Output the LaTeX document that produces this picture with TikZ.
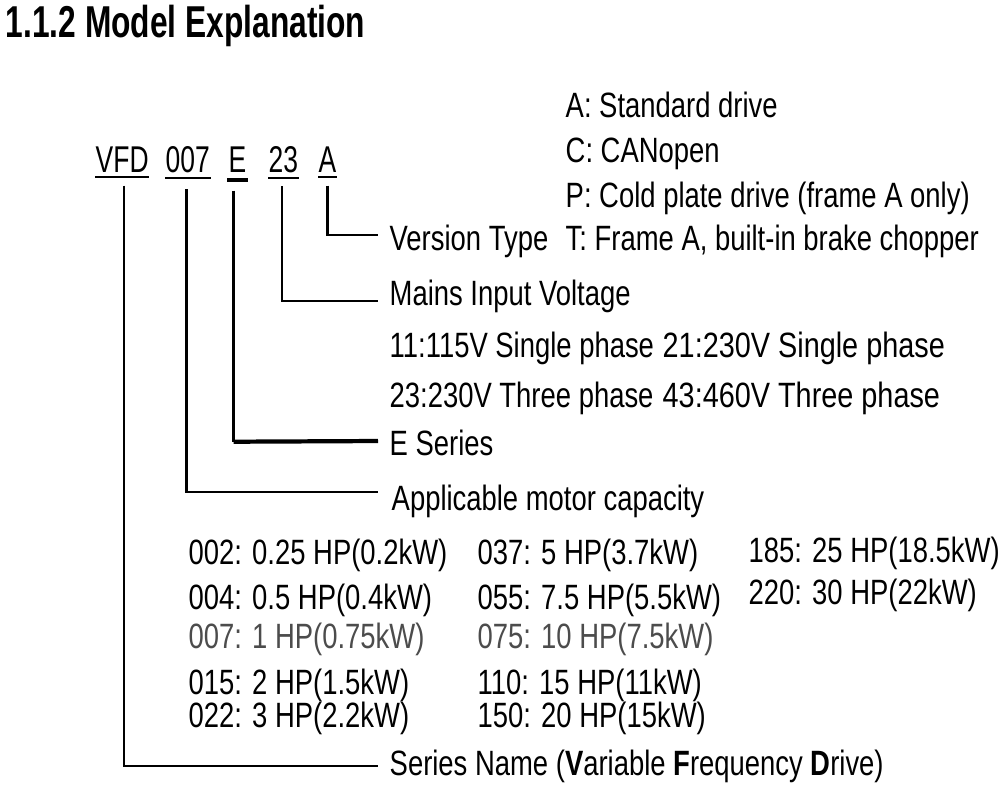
\documentclass[tikz,border=0pt]{standalone}
\usepackage{fontspec}
\setmainfont{Liberation Sans}[FakeStretch=0.78]
\newfontfamily\titlefont{Liberation Sans}[FakeStretch=0.71]
\newfontfamily\codefont{Liberation Sans}[FakeStretch=0.71]
\newfontfamily\widefont{Liberation Sans}[FakeStretch=0.82]
\usetikzlibrary{calc}
\definecolor{lightink}{rgb}{0.3,0.3,0.3}
\tikzset{
  txt/.style={anchor=base west, inner sep=0pt, font=\fontsize{10}{12}\selectfont},
  widetxt/.style={anchor=base west, inner sep=0pt, font=\widefont\fontsize{10}{12}\selectfont},
  dim/.style={txt, text=lightink},
  code/.style={anchor=base west, inner sep=0pt, font=\codefont\fontsize{10.6}{12}\selectfont},
  conn/.style={draw=black, line width=0.6pt},
  uline/.style={draw=black, line width=0.6pt},
}
\begin{document}
\begin{tikzpicture}[x=0.01cm,y=-0.01cm]
\useasboundingbox (0,0) rectangle (1000,793);
\fill[white] (0,0) rectangle (1000,793);
% title
\node[anchor=base west, inner sep=0pt, font=\titlefont\bfseries\fontsize{12.7}{14}\selectfont] (title) at (5,37) {1.1.2 Model Explanation};
% code parts
\node[code] (vfd) at (95,172) {VFD};
\node[code] (cap) at (165,172) {007};
\node[code] (ser) at (228,172) {E};
\node[code] (volt) at (268,172) {23};
\node[code] (ver) at (318,172) {A};
\draw[uline] ($(vfd.south west)+(0,4.5)$) -- ($(vfd.south east)+(0,4.5)$);
\draw[uline] ($(cap.south west)+(0,4.5)$) -- ($(cap.south east)+(0,4.5)$);
\draw[black, line width=1.2pt] ($(ser.south west)+(-1,7.5)$) -- ($(ser.south east)+(1,7.5)$);
\draw[uline] ($(volt.south west)+(0,4.5)$) -- ($(volt.south east)+(0,4.5)$);
\draw[uline] ($(ver.south west)+(0,4.5)$) -- ($(ver.south east)+(0,4.5)$);
% version type
\node[txt] (lver) at (389,250) {Version Type};
\node[txt] (va) at (565,117) {A: Standard drive};
\node[txt] (vc) at (565,162) {C: CANopen};
\node[txt] (vp) at (565,207) {P: Cold plate drive (frame A only)};
\node[txt] (vt) at (565,250) {T: Frame A, built-in brake chopper};
% mains
\node[txt] (lvolt) at (389,305) {Mains Input Voltage};
\node[txt] (v11) at (389,357) {11:115V Single phase};
\node[widetxt] (v21) at (662,357) {21:230V Single phase};
\node[txt] (v23) at (389,407) {23:230V Three phase};
\node[widetxt] (v43) at (662,407) {43:460V Three phase};
% series
\node[txt] (lser) at (389,455) {E Series};
% capacity
\node[txt] (lcap) at (391,510) {Applicable motor capacity};
\node[txt] (c002) at (188,564) {002: 0.25 HP(0.2kW)};
\node[txt] (c004) at (188,609) {004: 0.5 HP(0.4kW)};
\node[dim] (c007) at (188,648) {007: 1 HP(0.75kW)};
\node[txt] (c015) at (188,694) {015: 2 HP(1.5kW)};
\node[txt] (c022) at (188,727) {022: 3 HP(2.2kW)};
\node[txt] (c037) at (477,564) {037: 5 HP(3.7kW)};
\node[txt] (c055) at (477,609) {055: 7.5 HP(5.5kW)};
\node[dim] (c075) at (477,648) {075: 10 HP(7.5kW)};
\node[txt] (c110) at (477,694) {110: 15 HP(11kW)};
\node[txt] (c150) at (477,727) {150: 20 HP(15kW)};
\node[txt] (c185) at (748,562) {185: 25 HP(18.5kW)};
\node[txt] (c220) at (748,604) {220: 30 HP(22kW)};
% series name
\node[txt] (lvfd) at (389,775) {Series Name (\textbf{V}ariable \textbf{F}requency \textbf{D}rive)};
% connector ends
\coordinate (ever) at (378,235);
\coordinate (evolt) at (378,301);
\coordinate (eser) at (378,441);
\coordinate (ecap) at (378,492);
\coordinate (evfd) at (378,766);
% connectors
\draw[conn] ($(ver.south)+(0,13)$) |- (ever);
\draw[conn] ($(volt.south)+(-1,13)$) |- (evolt);
\draw[conn] ($(ser.south)+(-4,18)$) |- (eser);
\draw[black, line width=1.2pt] ($(ser.south)+(-4,269)$) -- (eser);
\draw[conn, line width=0.75pt] ($(cap.south)+(-1,16)$) |- (ecap);
\draw[conn] ($(vfd.south)+(1.5,13)$) |- (evfd);
\end{tikzpicture}
\end{document}
